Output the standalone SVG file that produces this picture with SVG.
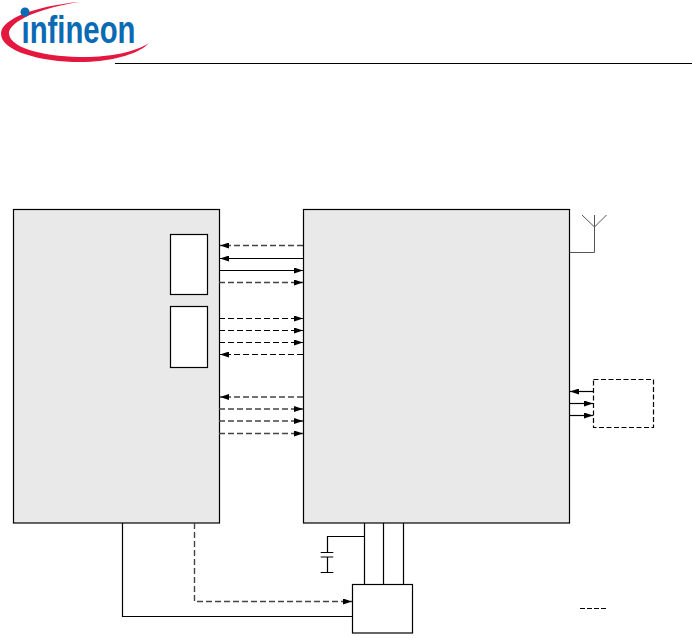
<svg xmlns="http://www.w3.org/2000/svg" width="692" height="638" viewBox="0 0 692 638">
<style>
.block{fill:#e9e9e9;stroke:#000;stroke-width:1.2}
.box{fill:#fff;stroke:#000;stroke-width:1.2}
.line{fill:none;stroke:#000;stroke-width:1.2}
.dash{fill:none;stroke:#000;stroke-width:1.2;stroke-dasharray:6 3}
.soft{stroke:#444;stroke-width:1.4}
.thin{stroke:#555;stroke-width:1}
</style>
<defs>
<marker id="arrow" markerUnits="userSpaceOnUse" markerWidth="9" markerHeight="6" refX="9" refY="3" orient="auto"><path d="M0,0L9,3L0,6z" fill="#000"/></marker>
</defs>
<g id="logo">
<path d="M79,2C35,6 2,19 1,33C0,52 45,63 85,62C115,61 140,53 149,43C135,52 110,57 85,57C50,57 11,50 9,34C8,24 30,10 79,2z" fill="#e4173f"/>
<circle cx="25" cy="12" r="4.5" fill="#0a6ab4"/>
<text transform="translate(21.5,43) scale(1,1.36)" font-family="'Liberation Sans',sans-serif" font-size="29" font-weight="bold" fill="#0a6ab4" textLength="114" lengthAdjust="spacingAndGlyphs">ınfineon</text>
</g>
<line id="header-rule" x1="115" y1="63.5" x2="692" y2="63.5" stroke="#000"/>
<g id="left-block"><rect class="block" x="13.5" y="209.5" width="206" height="313.5"/></g>
<g id="right-block"><rect class="block" x="303.5" y="209.5" width="266" height="313.5"/></g>
<g id="inner-a"><rect class="box" x="170.5" y="234.5" width="37" height="60"/></g>
<g id="inner-b"><rect class="box" x="170.5" y="306.5" width="37" height="61"/></g>
<g id="peripheral"><rect x="593.5" y="379.5" width="60" height="48" class="dash" style="stroke-dasharray:5 2.5"/></g>
<g id="regulator"><rect class="box" x="352.5" y="584.5" width="60" height="48.5"/></g>
<g id="antenna"><path class="line thin" d="M570,252.5H594.5V215M582,215L594.5,227L606.5,215"/></g>
<g id="capacitor"><path class="line" d="M364.5,536.5H327.5V552.5M320.7,552.5H333.3M320.7,557H333.3M327.5,557V572.5M320.7,572.5H333.3"/></g>
<g id="connectors">
<line class="dash soft" x1="303" y1="245.5" x2="220" y2="245.5" marker-end="url(#arrow)"/>
<line class="line" x1="303" y1="258.5" x2="220" y2="258.5" marker-end="url(#arrow)"/>
<line class="line" x1="219" y1="270.5" x2="303" y2="270.5" marker-end="url(#arrow)"/>
<line class="dash soft" x1="219" y1="282.5" x2="303" y2="282.5" marker-end="url(#arrow)"/>
<line class="dash" x1="219" y1="318.5" x2="303" y2="318.5" marker-end="url(#arrow)"/>
<line class="dash" x1="219" y1="330.5" x2="303" y2="330.5" marker-end="url(#arrow)"/>
<line class="dash" x1="219" y1="342.5" x2="303" y2="342.5" marker-end="url(#arrow)"/>
<line class="dash" x1="303" y1="354.5" x2="220" y2="354.5" marker-end="url(#arrow)"/>
<line class="dash soft" x1="303" y1="397" x2="220" y2="397" marker-end="url(#arrow)"/>
<line class="dash soft" x1="219" y1="409" x2="303" y2="409" marker-end="url(#arrow)"/>
<line class="dash soft" x1="219" y1="421" x2="303" y2="421" marker-end="url(#arrow)"/>
<line class="dash soft" x1="219" y1="433.5" x2="303" y2="433.5" marker-end="url(#arrow)"/>
<line class="line" x1="593" y1="391.5" x2="570" y2="391.5" marker-end="url(#arrow)"/>
<line class="line" x1="570" y1="403.5" x2="593" y2="403.5" marker-end="url(#arrow)"/>
<line class="line" x1="570" y1="415.5" x2="593" y2="415.5" marker-end="url(#arrow)"/>
<path class="line" d="M122.5,523V616.5H352"/>
<path class="dash soft" d="M194.5,523V601.5H352" marker-end="url(#arrow)"/>
<line class="line" x1="364.5" y1="523" x2="364.5" y2="584"/>
<line class="line" x1="383.5" y1="523" x2="383.5" y2="584"/>
<line class="line" x1="403.5" y1="523" x2="403.5" y2="584"/>
<line class="dash" x1="580" y1="608.5" x2="606" y2="608.5" style="stroke-dasharray:5 2"/>
</g>
</svg>
